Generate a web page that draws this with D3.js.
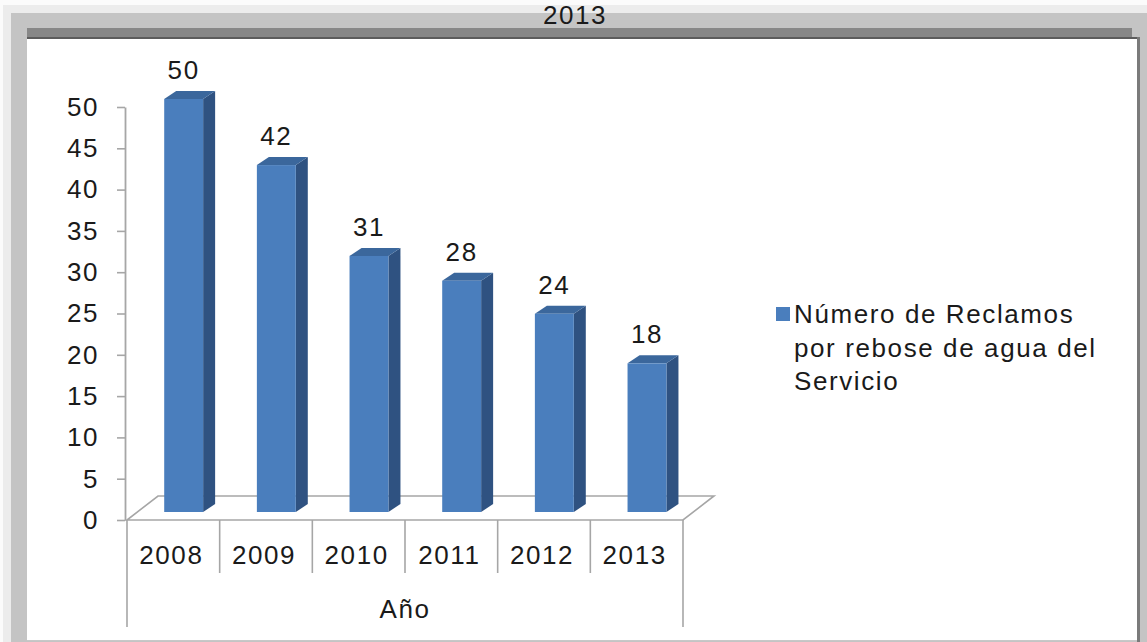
<!DOCTYPE html>
<html>
<head>
<meta charset="utf-8">
<script src="https://cdn.jsdelivr.net/npm/d3@7"></script>
<style>
  html, body { margin: 0; padding: 0; background: #ffffff; }
  svg { display: block; }
  text { font-family: "Liberation Sans", Arial, sans-serif; fill: #1a1a1a; }
</style>
</head>
<body>
<svg id="chart" width="1147" height="642"></svg>
<script>
// Reclamos por rebose de agua del servicio, 2008-2013
const years = ["2008", "2009", "2010", "2011", "2012", "2013"];
const reclamos = [50, 42, 31, 28, 24, 18];
const yTicks = [0, 5, 10, 15, 20, 25, 30, 35, 40, 45, 50];
const legendLines = ["Número de Reclamos", "por rebose de agua del", "Servicio"];
const chartTitle = "2013";
const axisTitle = "Año";

const W = 1147, H = 642;
const FS = 26, LS = "1.6px";
const svg = d3.select("#chart");

// ---- frame (gray bevelled border around the white panel) ----
const frame = svg.append("g");
frame.append("rect").attr("x", 0).attr("y", 0).attr("width", W).attr("height", H).attr("fill", "#fbfbfb");
frame.append("rect").attr("x", 3).attr("y", 5).attr("width", W - 3).attr("height", H - 5).attr("fill", "#ececec");
frame.append("rect").attr("x", 11).attr("y", 13).attr("width", W - 11).attr("height", H - 13).attr("fill", "#c4c4c4");
frame.append("rect").attr("x", 27).attr("y", 28).attr("width", 1105).attr("height", 10).attr("fill", "#878787");
frame.append("rect").attr("x", 27).attr("y", 37).attr("width", 1113).attr("height", 2).attr("fill", "#5c5c5c");
frame.append("rect").attr("x", 1137).attr("y", 37).attr("width", 3).attr("height", H - 37).attr("fill", "#7a7a7a");
frame.append("rect").attr("x", 27).attr("y", 39).attr("width", 1110).attr("height", 601).attr("fill", "#ffffff");
frame.append("rect").attr("x", 27).attr("y", 640).attr("width", 1110).attr("height", 1).attr("fill", "#c8c8c8");

// title, sitting on the top border band
svg.append("text")
  .attr("x", 575).attr("y", 24)
  .attr("text-anchor", "middle")
  .style("font-size", FS + "px").style("letter-spacing", LS)
  .text(chartTitle);

// ---- scales ----
const x = d3.scaleBand().domain(years).range([127, 683]).paddingInner(0).paddingOuter(0);
const y = d3.scaleLinear().domain([0, 50]).range([520, 107]);

// oblique depth direction of the 3D floor
const depth = { dx: 31, dy: -24 };
const tFront = 1 / 3;
// depth of each column (side / top faces)
const barDepth = { dx: 12, dy: -8 };
const barW = x.bandwidth() * 0.42;

// ---- floor ----
const x0 = x.range()[0], x1 = x.range()[1], yb = y(0);
svg.append("path")
  .attr("d", `M${x0},${yb} L${x1},${yb} L${x1 + depth.dx},${yb + depth.dy} L${x0 + depth.dx},${yb + depth.dy} Z`)
  .attr("fill", "none").attr("stroke", "#a6a6a6").attr("stroke-width", 1.6);

// ---- category axis: dividers between years ----
const edges = years.map(d => x(d)).concat([x1]);
svg.append("g").selectAll("line").data(edges).join("line")
  .attr("x1", d => d).attr("x2", d => d)
  .attr("y1", yb)
  .attr("y2", (d, i) => (i === 0 || i === edges.length - 1) ? 627 : 573)
  .attr("stroke", "#a6a6a6").attr("stroke-width", 1.6);

const xAxis = svg.append("g")
  .attr("transform", `translate(-2,${yb})`)
  .call(d3.axisBottom(x).tickSize(0).tickPadding(26));
xAxis.select(".domain").remove();
xAxis.selectAll("text").style("font-size", FS + "px").style("letter-spacing", LS)
  .style("font-family", "\"Liberation Sans\", Arial, sans-serif").attr("fill", "#1a1a1a");

svg.append("text")
  .attr("x", (x0 + x1) / 2).attr("y", 618)
  .attr("text-anchor", "middle")
  .style("font-size", FS + "px").style("letter-spacing", LS)
  .text(axisTitle);

// ---- value axis ----
const yAxis = svg.append("g")
  .attr("transform", "translate(125,0)")
  .call(d3.axisLeft(y).tickValues(yTicks).tickSize(8).tickSizeOuter(0).tickPadding(18));
yAxis.select(".domain").attr("stroke", "#a6a6a6").attr("stroke-width", 1.8);
yAxis.selectAll(".tick line").attr("stroke", "#a6a6a6").attr("stroke-width", 1.6);
yAxis.selectAll("text").style("font-size", FS + "px").style("letter-spacing", LS)
  .style("font-family", "\"Liberation Sans\", Arial, sans-serif").attr("fill", "#1a1a1a");

// ---- 3D columns ----
const bars = years.map((yr, i) => ({ yr, v: reclamos[i] }));

const g = svg.append("g");
bars.forEach(d => {
  const cx = x(d.yr) + x.bandwidth() / 2 + depth.dx * tFront;
  const fl = cx - barW / 2, fr = cx + barW / 2;
  const fTop = y(d.v) + depth.dy * tFront, fBot = y(0) + depth.dy * tFront;
  const bl = fl + barDepth.dx, br = fr + barDepth.dx;
  const bTop = fTop + barDepth.dy, bBot = fBot + barDepth.dy;
  // side face
  g.append("path")
    .attr("d", `M${fr},${fTop} L${br},${bTop} L${br},${bBot} L${fr},${fBot} Z`)
    .attr("fill", "#2f5281");
  // top face
  g.append("path")
    .attr("d", `M${fl},${fTop} L${bl},${bTop} L${br},${bTop} L${fr},${fTop} Z`)
    .attr("fill", "#3b679c");
  // front face
  g.append("rect")
    .attr("x", fl).attr("y", fTop).attr("width", fr - fl).attr("height", fBot - fTop)
    .attr("fill", "#4a7ebd");
  // value label
  g.append("text")
    .attr("x", (fl + fr) / 2).attr("y", fTop - 20)
    .attr("text-anchor", "middle")
    .style("font-size", FS + "px").style("letter-spacing", LS)
    .text(d.v);
});

// ---- legend ----
const lg = svg.append("g");
lg.append("rect").attr("x", 776).attr("y", 307).attr("width", 14).attr("height", 14).attr("fill", "#4a7ebd");
lg.selectAll("text").data(legendLines).join("text")
  .attr("x", 794).attr("y", (d, i) => 323 + i * 33.5)
  .style("font-size", FS + "px").style("letter-spacing", LS)
  .text(d => d);
</script>
</body>
</html>
